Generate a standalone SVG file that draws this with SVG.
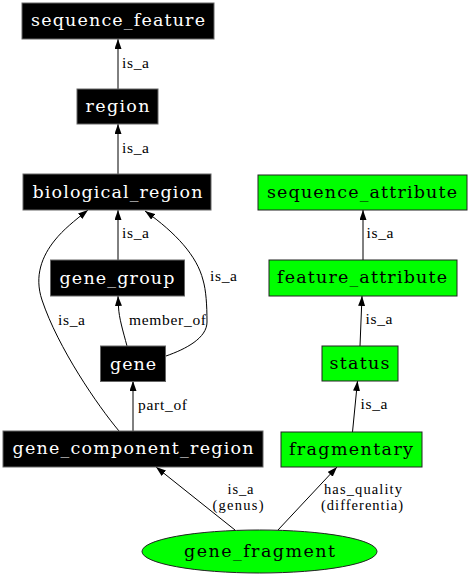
<svg xmlns="http://www.w3.org/2000/svg" width="471" height="576" viewBox="0 0 471 576">
<style>
.bn rect{fill:#000;stroke:#666;stroke-width:1}
.gn rect,.gn ellipse{fill:#00ff00;stroke:#222;stroke-width:1}
.bn text{fill:#fff;font-family:"DejaVu Serif",serif;font-size:17.5px;text-anchor:middle}
.gn text{fill:#000;font-family:"DejaVu Serif",serif;font-size:17.5px;text-anchor:middle}
.e path{fill:none;stroke:#000;stroke-width:1;marker-end:url(#ah)}
.e text{font-family:"Liberation Serif",serif;font-size:15.5px;fill:#000}
.e .c{text-anchor:middle}
.e .s{font-size:14.5px}
</style>
<defs>
<marker id="ah" markerUnits="userSpaceOnUse" markerWidth="10" markerHeight="7" refX="10" refY="3.5" orient="auto">
<path d="M0,0 L10,3.5 L0,7 z" fill="#000"/>
</marker>
</defs>
<rect width="471" height="576" fill="#fff"/>
<g id="edges" class="e">
<path d="M118,89 L118,39"/>
<text x="122" y="68" textLength="27" lengthAdjust="spacing">is_a</text>
<path d="M118,174 L118,124"/>
<text x="122" y="153" textLength="27" lengthAdjust="spacing">is_a</text>
<path d="M118,260 L118,210"/>
<text x="122" y="238" textLength="27" lengthAdjust="spacing">is_a</text>
<path d="M127,346 C123,331 119,318 118.5,307 L118,296"/>
<text x="129" y="325" textLength="77" lengthAdjust="spacing">member_of</text>
<path d="M166,356 C186,349 207,338 207,322 C207,305 206,290 203,280 C197,256 176,233 145,211"/>
<text x="210" y="281" textLength="27" lengthAdjust="spacing">is_a</text>
<path d="M119,431 C98,406 58,348 42,300 C34,276 42,256 55,240 C63,230 74,221 88,210"/>
<text x="58" y="325" textLength="27" lengthAdjust="spacing">is_a</text>
<path d="M133,431 L133,381"/>
<text x="138" y="410" textLength="49" lengthAdjust="spacing">part_of</text>
<path d="M235,530 L156,467"/>
<text class="c s" x="240.5" y="494" textLength="26" lengthAdjust="spacing">is_a</text>
<text class="c s" x="238" y="509.5" textLength="51" lengthAdjust="spacing">(genus)</text>
<path d="M278,530 L337,467"/>
<text class="c s" x="363" y="494" textLength="78" lengthAdjust="spacing">has_quality</text>
<text class="c s" x="362" y="509.5" textLength="82" lengthAdjust="spacing">(differentia)</text>
<path d="M363,260 L363,210"/>
<text x="366.5" y="238" textLength="27" lengthAdjust="spacing">is_a</text>
<path d="M360,346 L362,296"/>
<text x="365.5" y="324" textLength="27" lengthAdjust="spacing">is_a</text>
<path d="M352.5,432 L357.5,381"/>
<text x="360.5" y="409" textLength="27" lengthAdjust="spacing">is_a</text>
</g>
<g id="sequence_feature" class="bn"><rect x="22" y="3" width="192" height="36"/><text x="118" y="26" textLength="174" lengthAdjust="spacing">sequence_feature</text></g>
<g id="region" class="bn"><rect x="77" y="89" width="81" height="35"/><text x="117.5" y="112" textLength="64" lengthAdjust="spacing">region</text></g>
<g id="biological_region" class="bn"><rect x="23" y="174" width="188" height="36"/><text x="117.5" y="197.5" textLength="170" lengthAdjust="spacing">biological_region</text></g>
<g id="gene_group" class="bn"><rect x="50.5" y="260" width="134" height="36"/><text x="117" y="283.5" textLength="115" lengthAdjust="spacing">gene_group</text></g>
<g id="gene" class="bn"><rect x="100.5" y="346" width="65" height="35.5"/><text x="133" y="370" textLength="46" lengthAdjust="spacing">gene</text></g>
<g id="gene_component_region" class="bn"><rect x="3" y="431" width="260" height="36"/><text x="133" y="454" textLength="241" lengthAdjust="spacing">gene_component_region</text></g>
<g id="sequence_attribute" class="gn"><rect x="258" y="175" width="209" height="35"/><text x="362" y="197.5" textLength="190" lengthAdjust="spacing">sequence_attribute</text></g>
<g id="feature_attribute" class="gn"><rect x="269" y="260" width="188" height="36"/><text x="362" y="283" textLength="170" lengthAdjust="spacing">feature_attribute</text></g>
<g id="status" class="gn"><rect x="322" y="346" width="76" height="35"/><text x="359.5" y="368.5" textLength="60" lengthAdjust="spacing">status</text></g>
<g id="fragmentary" class="gn"><rect x="281" y="432" width="141" height="35"/><text x="351" y="454.5" textLength="124" lengthAdjust="spacing">fragmentary</text></g>
<g id="gene_fragment" class="gn"><ellipse cx="259.5" cy="551.5" rx="117.5" ry="21.5"/><text x="259.5" y="557" textLength="151" lengthAdjust="spacing">gene_fragment</text></g>
</svg>
